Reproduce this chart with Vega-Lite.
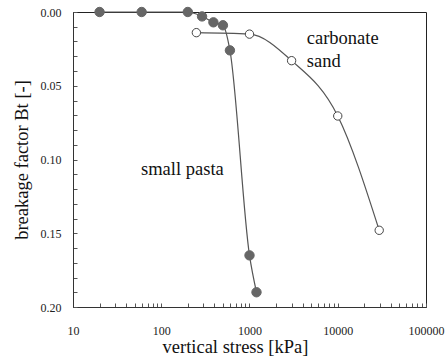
{
  "$schema": "https://vega.github.io/schema/vega-lite/v6.json",
  "width": 353,
  "height": 295,
  "autosize": {"type": "none"},
  "padding": {"left": 73, "top": 12, "right": 19, "bottom": 51},
  "background": "white",
  "config": {
    "view": {"stroke": "#222", "strokeWidth": 1},
    "font": "Liberation Serif, Times New Roman, serif",
    "axis": {
      "domainColor": "#333",
      "tickColor": "#555",
      "grid": false,
      "labelFont": "Liberation Serif, Times New Roman, serif",
      "labelFontSize": 12,
      "labelColor": "#222",
      "labelOverlap": false,
      "labelFlush": false,
      "titleFont": "Liberation Serif, Times New Roman, serif",
      "titleFontSize": 18.5,
      "titleFontWeight": "normal",
      "titleColor": "#111"
    }
  },
  "datasets": {
    "pts": [
      {"series": "small pasta", "stress": 20, "bt": 0.0},
      {"series": "small pasta", "stress": 60, "bt": 0.0},
      {"series": "small pasta", "stress": 200, "bt": 0.0},
      {"series": "small pasta", "stress": 290, "bt": 0.003},
      {"series": "small pasta", "stress": 390, "bt": 0.007},
      {"series": "small pasta", "stress": 500, "bt": 0.009},
      {"series": "small pasta", "stress": 600, "bt": 0.026},
      {"series": "small pasta", "stress": 1000, "bt": 0.165},
      {"series": "small pasta", "stress": 1200, "bt": 0.19},
      {"series": "carbonate sand", "stress": 250, "bt": 0.014},
      {"series": "carbonate sand", "stress": 1000, "bt": 0.015},
      {"series": "carbonate sand", "stress": 3000, "bt": 0.033},
      {"series": "carbonate sand", "stress": 10000, "bt": 0.0705},
      {"series": "carbonate sand", "stress": 29500, "bt": 0.148}
    ],
    "labels": [
      {"text": "small pasta", "stress": 59, "bt": 0.1064},
      {"text": "carbonate", "stress": 4450, "bt": 0.0176},
      {"text": "sand", "stress": 4450, "bt": 0.0332}
    ]
  },
  "encoding": {
    "x": {
      "field": "stress", "type": "quantitative",
      "scale": {"type": "log", "domain": [10, 100000], "nice": false},
      "axis": {
        "title": "vertical stress [kPa]",
        "titleX": 162,
        "values": [10,20,30,40,50,60,70,80,90,100,200,300,400,500,600,700,800,900,1000,2000,3000,4000,5000,6000,7000,8000,9000,10000,20000,30000,40000,50000,60000,70000,80000,90000,100000],
        "labelExpr": "indexof(['10','100','1000','10000','100000'], format(datum.value, 'd')) >= 0 ? format(datum.value, 'd') : ''",
        "tickSize": -4,
        "labelPadding": 22,
        "titlePadding": 1,
        "labelFlush": false,
        "labelOverlap": false
      }
    },
    "y": {
      "field": "bt", "type": "quantitative",
      "scale": {"domain": [0, 0.2], "reverse": true, "nice": false, "zero": false},
      "axis": {
        "title": "breakage factor Bt [-]",
        "values": [0,0.01,0.02,0.03,0.04,0.05,0.06,0.07,0.08,0.09,0.1,0.11,0.12,0.13,0.14,0.15,0.16,0.17,0.18,0.19,0.2],
        "labelExpr": "round(datum.value * 100) % 5 == 0 ? format(datum.value, '.2f') : ''",
        "tickSize": -4,
        "labelPadding": 16,
        "titlePadding": 9,
        "labelFlush": false,
        "labelOverlap": false
      }
    }
  },
  "layer": [
    {
      "data": {"name": "pts"},
      "mark": {"type": "line", "interpolate": "monotone", "color": "#555", "strokeWidth": 1.2},
      "encoding": {
        "detail": {"field": "series"}
      }
    },
    {
      "data": {"name": "pts"},
      "mark": {"type": "circle", "strokeWidth": 1, "opacity": 1},
      "encoding": {
        "size": {"field": "series", "type": "nominal", "scale": {"domain": ["small pasta", "carbonate sand"], "range": [88, 70]}, "legend": null},
        "fill": {"field": "series", "type": "nominal", "scale": {"domain": ["small pasta", "carbonate sand"], "range": ["#666666", "#ffffff"]}, "legend": null},
        "stroke": {"field": "series", "type": "nominal", "scale": {"domain": ["small pasta", "carbonate sand"], "range": ["#666666", "#444444"]}, "legend": null}
      }
    },
    {
      "data": {"name": "labels"},
      "mark": {"type": "text", "align": "left", "baseline": "middle", "fontSize": 18.5, "font": "Liberation Serif, Times New Roman, serif", "color": "#111"},
      "encoding": {
        "text": {"field": "text"}
      }
    }
  ]
}
